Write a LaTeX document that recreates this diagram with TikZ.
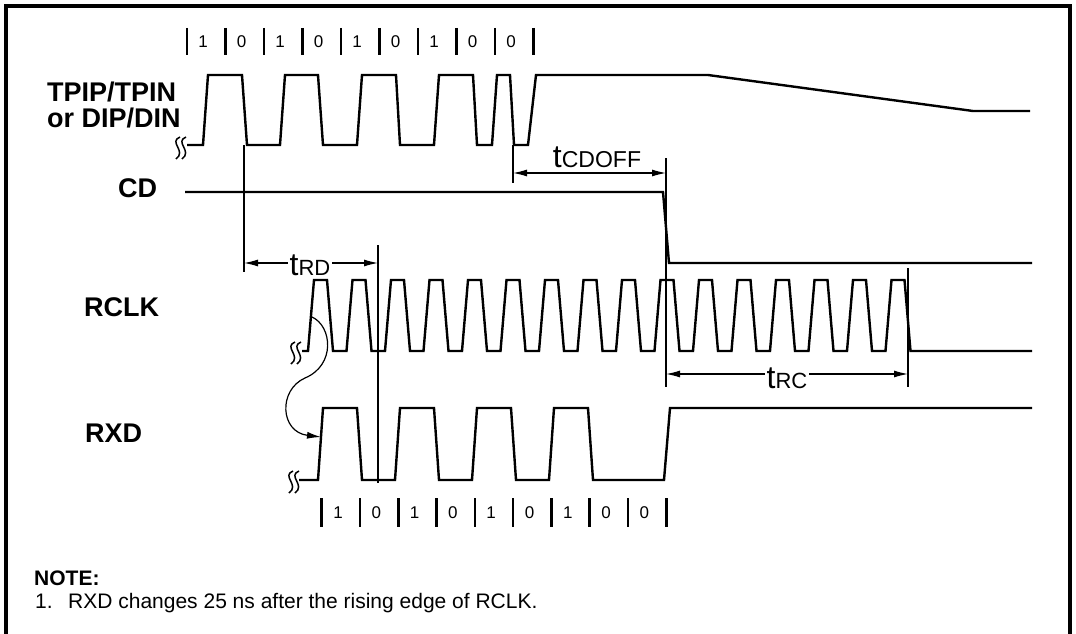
\documentclass[tikz,border=0pt]{standalone}
\usepackage{fontspec}
\setmainfont{Liberation Sans}
\usetikzlibrary{arrows.meta}
\begin{document}
\begin{tikzpicture}[x=1pt,y=-1pt,
  sig/.style={line width=2.4pt, line join=miter},
  thinl/.style={line width=1.1pt},
  dimarrow/.style={line width=1.1pt, {Latex[length=14pt,width=7pt]}-{Latex[length=14pt,width=7pt]}},
  lbl/.style={font=\fontsize{27}{27}\selectfont\bfseries, inner sep=0pt, text height=19pt, text depth=0pt},
  bitlbl/.style={font=\fontsize{17}{17}\selectfont, inner sep=0pt},
  tickmark/.style={line width=2.6pt},
  brk/.pic={\draw[line width=1.5pt] (-1,-11) .. controls (-13,-6) and (6,3) .. (-5,11);
            \draw[line width=1.5pt] (5,-11) .. controls (-7,-6) and (12,3) .. (1,11);},
  tlabel/.style={inner sep=1.5pt, fill=white}
]
\useasboundingbox (0,0) rectangle (1076,634);
% frame
\draw[line width=4pt] (6,650) -- (6,6) -- (1070,6) -- (1070,650);

% top bit row
\foreach \k in {0,...,9} \draw[tickmark] ({187+38.5*\k},28) -- ({187+38.5*\k},55);
\foreach \d [count=\k from 0] in {1,0,1,0,1,0,1,0,0}
  \node[bitlbl] (tb\k) at ({203+38.5*\k},42) {\d};
% bottom bit row
\foreach \k in {0,...,9} \draw[tickmark] ({321.6+38.3*\k},498) -- ({321.6+38.3*\k},527);
\foreach \d [count=\k from 0] in {1,0,1,0,1,0,1,0,0}
  \node[bitlbl] (bb\k) at ({338+38.3*\k},513) {\d};

% signal labels
\node[lbl, anchor=base west] (ltp) at (47,101) {TPIP/TPIN};
\node[lbl, anchor=base west] (ldp) at (47,127) {or DIP/DIN};
\node[lbl, anchor=base west] (lcd) at (118,197) {CD};
\node[lbl, anchor=base west] (lrc) at (84,316) {RCLK};
\node[lbl, anchor=base west] (lrx) at (85,442) {RXD};

% TPIP
\pic at (181,148) {brk};
\draw[sig] (187,145) -- (203,145) -- (208,75) -- (242,75) -- (247,145) -- (280,145) -- (285,75) -- (318,75) -- (323,145)
  -- (357,145) -- (362,75) -- (396,75) -- (400,145) -- (434,145) -- (439,75) -- (473,75) -- (477,145)
  -- (492,145) -- (497,75) -- (510,75) -- (514,145) -- (528,145) -- (536,75) -- (708,75) -- (973,111) -- (1030,111);

% CD
\draw[sig] (185,192) -- (663,192) -- (669,263) -- (1032,263);

% RCLK
\pic at (296,353) {brk};
\draw[sig] (302,351) \foreach \i in {0,...,15} { -- ({308+38.5*\i},351) -- ({314+38.5*\i},280) -- ({327+38.5*\i},280) -- ({333+38.5*\i},351) } -- (1032,351);

% RXD
\pic at (294,482) {brk};
\draw[sig] (299,480) -- (318,480) -- (323,408) -- (357,408) -- (362,480) -- (395,480) -- (400,408) -- (434,408) -- (439,480)
  -- (472,480) -- (477,408) -- (511,408) -- (516,480) -- (549,480) -- (554,408) -- (588,408) -- (593,480)
  -- (664,480) -- (670,408) -- (1032,408);

% marker lines
\coordinate (a1) at (244,145); \coordinate (a2) at (244,272);
\coordinate (b1) at (378,245); \coordinate (b2) at (378,483);
\coordinate (c1) at (513,145); \coordinate (c2) at (513,183);
\coordinate (d1) at (666,158); \coordinate (d2) at (666,387);
\coordinate (e1) at (908,268); \coordinate (e2) at (908,387);
\draw[thinl] (a1) -- (a2);
\draw[thinl] (b1) -- (b2);
\draw[thinl] (c1) -- (c2);
\draw[thinl] (d1) -- (d2);
\draw[thinl] (e1) -- (e2);

% dimension arrows
\coordinate (rdL) at (244,263); \coordinate (rdR) at (378,263);
\coordinate (cdL) at (513,173); \coordinate (cdR) at (666,173);
\coordinate (rcL) at (666,374); \coordinate (rcR) at (908,374);
\draw[dimarrow] (rdL) -- (rdR);
\draw[dimarrow] (cdL) -- (cdR);
\draw[dimarrow] (rcL) -- (rcR);
\node[tlabel, anchor=base] (trd) at (310,275) {\fontsize{32}{32}\selectfont t\fontsize{22}{22}\selectfont RD};
\node[inner sep=0pt, anchor=base] (tcd) at (597,167) {\fontsize{32}{32}\selectfont t\fontsize{23}{23}\selectfont CDOFF};
\node[tlabel, anchor=base] (trc) at (787,388) {\fontsize{32}{32}\selectfont t\fontsize{22}{22}\selectfont RC};

% note arrow
\coordinate (n1) at (312,317); \coordinate (n2) at (321,437);
\draw[line width=1.2pt, -{Latex[length=14pt,width=7pt]}] (n1) .. controls (332,326) and (336,365) .. (305,378)
   .. controls (278,390) and (280,432) .. (n2);

% note
\node[inner sep=0pt, anchor=base west, font=\fontsize{21}{21}\selectfont\bfseries] (note) at (34,585) {NOTE:};
\node[inner sep=0pt, anchor=base west, font=\fontsize{21}{21}\selectfont] (item) at (35,608) {\makebox[33pt][l]{1.}RXD changes 25 ns after the rising edge of RCLK.};
\end{tikzpicture}
\end{document}
